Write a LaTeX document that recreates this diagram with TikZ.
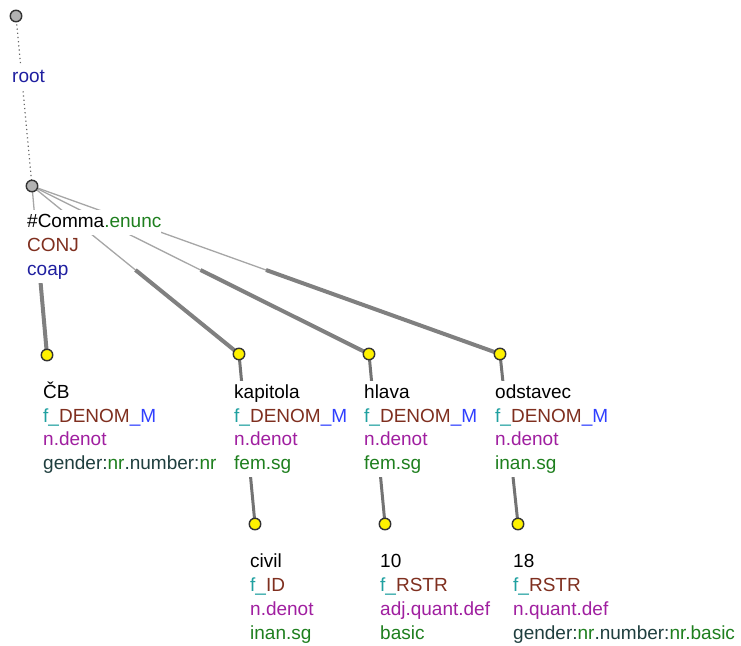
\documentclass[tikz,border=0pt]{standalone}
\usepackage{fontspec}
\setmainfont{Liberation Sans}
\usetikzlibrary{calc}
\definecolor{cgreen}{HTML}{1E7F1E}
\definecolor{cbrown}{HTML}{7F2F1F}
\definecolor{cnavy}{HTML}{1F1FA0}
\definecolor{cteal}{HTML}{1FA0A0}
\definecolor{cblue}{HTML}{2F3FFF}
\definecolor{cpurple}{HTML}{A01FA0}
\definecolor{cdark}{HTML}{1F3F3F}
\newcommand{\fdm}{\textcolor{cteal}{f\_}\textcolor{cbrown}{DENOM}\textcolor{cblue}{\_M}}
\begin{document}
\begin{tikzpicture}[x=1pt,y=-1pt,
  lbl/.style={anchor=base west, inner sep=0pt, fill=white, text height=17pt, text depth=7.5pt, font=\fontsize{19}{24}\selectfont},
  gnode/.style={circle, draw=black!80, line width=1.4pt, fill=black!30, minimum size=11.5pt, inner sep=0pt},
  ynode/.style={circle, draw=black!80, line width=1.4pt, fill=yellow, minimum size=11.5pt, inner sep=0pt},
  rootedge/.style={draw=black!60, line width=1.2pt, dash pattern=on 1.2pt off 3pt},
  thinedge/.style={draw=black!35, line width=1.3pt},
  thickedge/.style={draw=black!50, line width=4pt},
  childedge/.style={draw=black!55, line width=3pt}]
\useasboundingbox (0,0) rectangle (741,645);
% tree nodes (coordinates)
\coordinate (pr) at (16,16);
\coordinate (pc) at (32,186);
\coordinate (pcb) at (47,355);
\coordinate (pka) at (239,354);
\coordinate (phl) at (369,354);
\coordinate (pod) at (500,354);
\coordinate (pci) at (255,524);
\coordinate (p10) at (385,524);
\coordinate (p18) at (518,524);
% edges
\draw[rootedge] (pr) -- (pc);
\foreach \c in {pcb,pka,phl,pod}{
  \draw[thinedge] (pc) -- ($(pc)!0.5!(\c)$);
  \draw[thickedge] ($(pc)!0.5!(\c)$) -- (\c);
}
\draw[childedge] (pka) -- (pci);
\draw[childedge] (phl) -- (p10);
\draw[childedge] (pod) -- (p18);
% labels
\node[lbl, text=cnavy] (lroot) at (12,82) {root};
\node[lbl] (lc1) at (27,227) {\#Comma\textcolor{cgreen}{.enunc}};
\node[lbl, text=cbrown] (lc2) at (27,251) {CONJ};
\node[lbl, text=cnavy] (lc3) at (27,275) {coap};
\node[lbl] (lcb1) at (43,398) {ČB};
\node[lbl] (lcb2) at (43,422) {\fdm};
\node[lbl, text=cpurple] (lcb3) at (43,445.5) {n.denot};
\node[lbl, text=cdark] (lcb4) at (43,469) {gender:\textcolor{cgreen}{nr}.number:\textcolor{cgreen}{nr}};
\node[lbl] (lka1) at (234,398) {kapitola};
\node[lbl] (lka2) at (234,422) {\fdm};
\node[lbl, text=cpurple] (lka3) at (234,445.5) {n.denot};
\node[lbl, text=cgreen] (lka4) at (234,469) {fem.sg};
\node[lbl] (lhl1) at (364,398) {hlava};
\node[lbl] (lhl2) at (364,422) {\fdm};
\node[lbl, text=cpurple] (lhl3) at (364,445.5) {n.denot};
\node[lbl, text=cgreen] (lhl4) at (364,469) {fem.sg};
\node[lbl] (lod1) at (495,398) {odstavec};
\node[lbl] (lod2) at (495,422) {\fdm};
\node[lbl, text=cpurple] (lod3) at (495,445.5) {n.denot};
\node[lbl, text=cgreen] (lod4) at (495,469) {inan.sg};
\node[lbl] (lci1) at (250,567.5) {civil};
\node[lbl] (lci2) at (250,591.5) {\textcolor{cteal}{f\_}\textcolor{cbrown}{ID}};
\node[lbl, text=cpurple] (lci3) at (250,615) {n.denot};
\node[lbl, text=cgreen] (lci4) at (250,639) {inan.sg};
\node[lbl] (l101) at (380,567.5) {10};
\node[lbl] (l102) at (380,591.5) {\textcolor{cteal}{f\_}\textcolor{cbrown}{RSTR}};
\node[lbl, text=cpurple] (l103) at (380,615) {adj.quant.def};
\node[lbl, text=cgreen] (l104) at (380,639) {basic};
\node[lbl] (l181) at (513,567.5) {18};
\node[lbl] (l182) at (513,591.5) {\textcolor{cteal}{f\_}\textcolor{cbrown}{RSTR}};
\node[lbl, text=cpurple] (l183) at (513,615) {n.quant.def};
\node[lbl, text=cdark] (l184) at (513,639) {gender:\textcolor{cgreen}{nr}.number:\textcolor{cgreen}{nr.basic}};
% circles
\node[gnode] (nr) at (pr) {};
\node[gnode] (nc) at (pc) {};
\foreach \c in {pcb,pka,phl,pod,pci,p10,p18}{\node[ynode] (n\c) at (\c) {};}
\end{tikzpicture}
\end{document}
